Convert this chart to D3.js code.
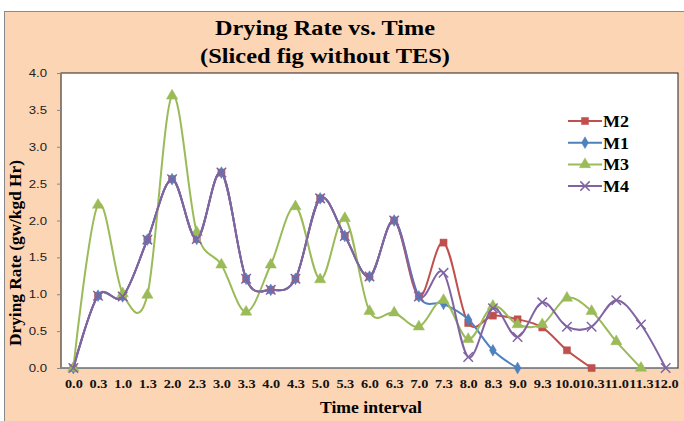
<!DOCTYPE html>
<html>
<head>
<meta charset="utf-8">
<script src="https://cdn.jsdelivr.net/npm/d3@7"></script>
<style>
  body { margin: 0; background: #fff; }
  svg { display: block; }
</style>
</head>
<body>
<div class="graph"></div>
<script>
// data
const times = ["0.0","0.3","1.0","1.3","2.0","2.3","3.0","3.3","4.0","4.3","5.0","5.3",
  "6.0","6.3","7.0","7.3","8.0","8.3","9.0","9.3","10.0","10.3","11.0","11.3","12.0"]
const m2 = [0,0.98,0.97,1.74,2.56,1.75,2.65,1.21,1.06,1.21,2.30,1.79,1.24,2.00,0.97,1.70,0.61,0.71,0.66,0.55,0.24,0]
const m1 = [0,0.98,0.97,1.74,2.56,1.75,2.65,1.21,1.06,1.21,2.30,1.79,1.24,2.00,0.97,0.87,0.66,0.24,0]
const m3 = [0,2.21,1.01,0.99,3.69,1.84,1.40,0.76,1.40,2.19,1.20,2.03,0.77,0.75,0.56,0.92,0.39,0.84,0.59,0.59,0.95,0.77,0.36,0]
const m4 = [0,0.98,0.97,1.74,2.56,1.75,2.65,1.21,1.06,1.21,2.30,1.79,1.24,2.00,0.97,1.29,0.15,0.81,0.42,0.89,0.56,0.56,0.92,0.59,0]
const yTicks = [0,0.5,1,1.5,2,2.5,3,3.5,4]

const series = [
  {name:"M2", values:m2, color:"#C0504D", sym:d3.symbolSquare, size:50, fill:true},
  {name:"M1", values:m1, color:"#4F81BD", sym:d3.symbolDiamond, size:40, fill:true},
  {name:"M3", values:m3, color:"#9BBB59", sym:d3.symbolTriangle, size:55, fill:true},
  {name:"M4", values:m4, color:"#8064A2", sym:d3.symbolX, size:60, fill:false}
]

const W = 684, H = 421
const plot = {left:61, top:73, right:678, bottom:368}
const serif = '"Liberation Serif", "Times New Roman", serif'

let svg = d3.select('.graph')
    .append('svg')
    .attr("width", W)
    .attr("height", H)

// chart area
svg.append('rect')
    .attr('x', 4.5).attr('y', 11.5)
    .attr('width', W).attr('height', H)
    .attr('fill', '#FCD5B4')
    .attr('stroke', '#8a8a8a')

svg.append('rect')
    .attr('x', plot.left).attr('y', plot.top)
    .attr('width', plot.right - plot.left).attr('height', plot.bottom - plot.top)
    .attr('fill', '#fff')
    .attr('stroke', '#222')
    .attr('stroke-width', 1)

// title
let title = svg.append('text')
    .attr('text-anchor', 'middle')
    .style('font-family', serif)
    .style('font-weight', 'bold')
    .style('font-size', '20px')
title.append('tspan').attr('x', 325).attr('y', 35)
    .attr('textLength', 220).attr('lengthAdjust', 'spacingAndGlyphs')
    .text('Drying Rate vs. Time')
title.append('tspan').attr('x', 325).attr('y', 63)
    .attr('textLength', 250).attr('lengthAdjust', 'spacingAndGlyphs')
    .text('(Sliced fig without TES)')

let x = d3.scalePoint()
    .domain(times)
    .range([plot.left, plot.right])
    .padding(0.5)

let y = d3.scaleLinear()
    .domain([0, 4])
    .range([plot.bottom, plot.top])

// y axis
let yAxis = svg.append('g')
    .attr('transform', `translate(${plot.left},0)`)
    .call(d3.axisLeft(y).tickValues(yTicks).tickFormat(d3.format('.1f')).tickSize(4).tickPadding(0))
yAxis.select('.domain').attr('stroke', '#868686')
yAxis.selectAll('.tick line').attr('stroke', '#868686')
yAxis.selectAll('text')
    .attr('x', 0)
    .attr('transform', 'translate(-14,0) scale(1.2,1)')
    .style('font-family', '"Liberation Sans", Arial, sans-serif')
    .style('font-size', '11px')
    .attr('fill', '#222')

// x axis
let xAxis = svg.append('g')
    .attr('transform', `translate(0,${plot.bottom})`)
    .call(d3.axisBottom(x).tickSize(0).tickPadding(11))
xAxis.select('.domain').attr('stroke', '#868686')
xAxis.selectAll('text')
    .attr('transform', 'scale(1.1,1)')
    .style('font-family', serif)
    .style('font-weight', 'bold')
    .style('font-size', '13px')
    .attr('fill', '#111')

svg.append('text')
    .attr('x', 371).attr('y', 413)
    .attr('text-anchor', 'middle')
    .attr('textLength', 102).attr('lengthAdjust', 'spacingAndGlyphs')
    .style('font-family', serif)
    .style('font-weight', 'bold')
    .style('font-size', '17px')
    .text('Time interval')

svg.append('text')
    .attr('transform', 'translate(21,253) rotate(-90)')
    .attr('text-anchor', 'middle')
    .attr('textLength', 186).attr('lengthAdjust', 'spacingAndGlyphs')
    .style('font-family', serif)
    .style('font-weight', 'bold')
    .style('font-size', '16px')
    .text('Drying Rate (gw/kgd Hr)')

// lines
let line = d3.line()
    .x(function (d,i){ return x(times[i]) })
    .y(function (d){ return y(d) })
    .curve(d3.curveCardinal.tension(0))

series.forEach(function(s){
  svg.append('path')
      .datum(s.values)
      .attr('d', line)
      .attr('fill', 'none')
      .attr('stroke', s.color)
      .attr('stroke-width', 2)

  svg.selectAll('.mk-' + s.name)
      .data(s.values)
      .enter()
      .append('path')
      .attr('class', 'mk-' + s.name)
      .attr('transform', (d,i) => `translate(${x(times[i])},${y(d)})`)
      .attr('d', d3.symbol().type(s.sym).size(s.size))
      .attr('fill', s.fill ? s.color : 'none')
      .attr('stroke', s.color)
      .attr('stroke-width', s.fill ? 0.5 : 1.5)
})

// legend
let legend = svg.append('g')
series.forEach(function(s, i){
  let ly = 121 + i * 21.7
  legend.append('line')
      .attr('x1', 568).attr('x2', 602)
      .attr('y1', ly).attr('y2', ly)
      .attr('stroke', s.color).attr('stroke-width', 2)
  legend.append('path')
      .attr('transform', `translate(585,${ly})`)
      .attr('d', d3.symbol().type(s.sym).size(s.size))
      .attr('fill', s.fill ? s.color : 'none')
      .attr('stroke', s.color)
      .attr('stroke-width', s.fill ? 0.5 : 1.5)
  legend.append('text')
      .attr('x', 603).attr('y', ly + 6)
      .attr('textLength', 26).attr('lengthAdjust', 'spacingAndGlyphs')
      .style('font-family', serif)
      .style('font-weight', 'bold')
      .style('font-size', '16px')
      .text(s.name)
})
</script>
</body>
</html>
